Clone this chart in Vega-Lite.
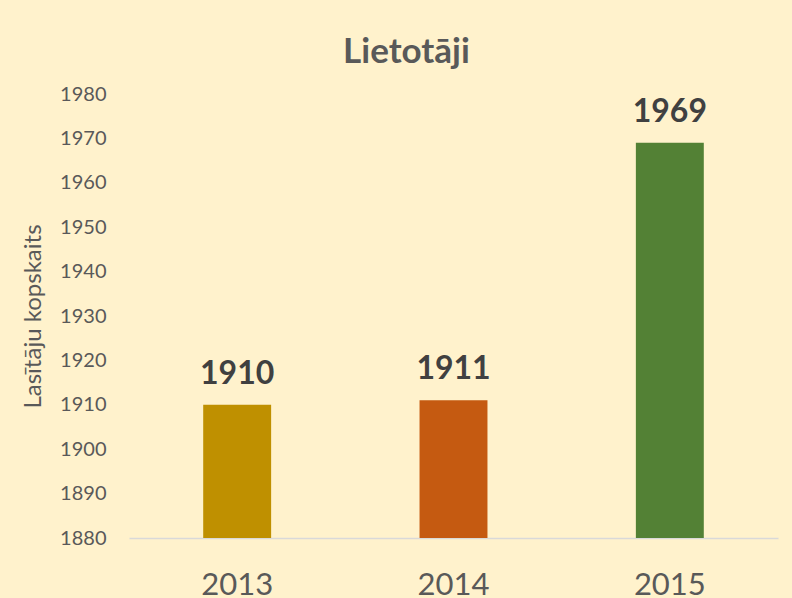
{
  "$schema": "https://vega.github.io/schema/vega-lite/v6.json",
  "autosize": {"type": "none"},
  "width": 649,
  "height": 444,
  "padding": {"left": 129, "top": 94, "right": 14, "bottom": 60},
  "background": "#FFF2CC",
  "config": {
    "font": "Lato",
    "view": {"stroke": null},
    "axis": {"labelFont": "Lato", "titleFont": "Lato"}
  },
  "title": {
    "text": "Lietotāji",
    "font": "Lato",
    "fontSize": 35,
    "fontWeight": "bold",
    "color": "#595959",
    "anchor": "middle",
    "dx": -47,
    "offset": 14
  },
  "data": {
    "values": [
      {"year": "2013", "value": 1910},
      {"year": "2014", "value": 1911},
      {"year": "2015", "value": 1969}
    ]
  },
  "encoding": {
    "x": {
      "field": "year",
      "type": "nominal",
      "scale": {"paddingInner": 0.686, "paddingOuter": 0.343},
      "axis": {
        "title": null,
        "labelAngle": 0,
        "labelFontSize": 31,
        "labelColor": "#595959",
        "labelPadding": 32,
        "ticks": false,
        "domainColor": "#D9D9D9",
        "domainWidth": 1.5,
        "grid": false
      }
    },
    "y": {
      "field": "value",
      "type": "quantitative",
      "scale": {"domain": [1880, 1980], "nice": false, "zero": false},
      "axis": {
        "title": "Lasītāju kopskaits",
        "titleFontSize": 24,
        "titleFontWeight": "normal",
        "titleColor": "#595959",
        "titlePadding": 14,
        "format": "d",
        "values": [1880, 1890, 1900, 1910, 1920, 1930, 1940, 1950, 1960, 1970, 1980],
        "labelFontSize": 20,
        "labelColor": "#595959",
        "labelPadding": 23,
        "ticks": false,
        "domain": false,
        "grid": false
      }
    }
  },
  "layer": [
    {
      "mark": {"type": "bar", "clip": true},
      "encoding": {
        "color": {
          "field": "year",
          "type": "nominal",
          "scale": {"domain": ["2013", "2014", "2015"], "range": ["#BF9000", "#C55A11", "#538135"]},
          "legend": null
        }
      }
    },
    {
      "mark": {
        "type": "text",
        "baseline": "alphabetic",
        "dy": -21,
        "fontSize": 32,
        "fontWeight": "bold",
        "color": "#404040",
        "font": "Lato"
      },
      "encoding": {
        "text": {"field": "value", "type": "quantitative", "format": "d"}
      }
    }
  ]
}
